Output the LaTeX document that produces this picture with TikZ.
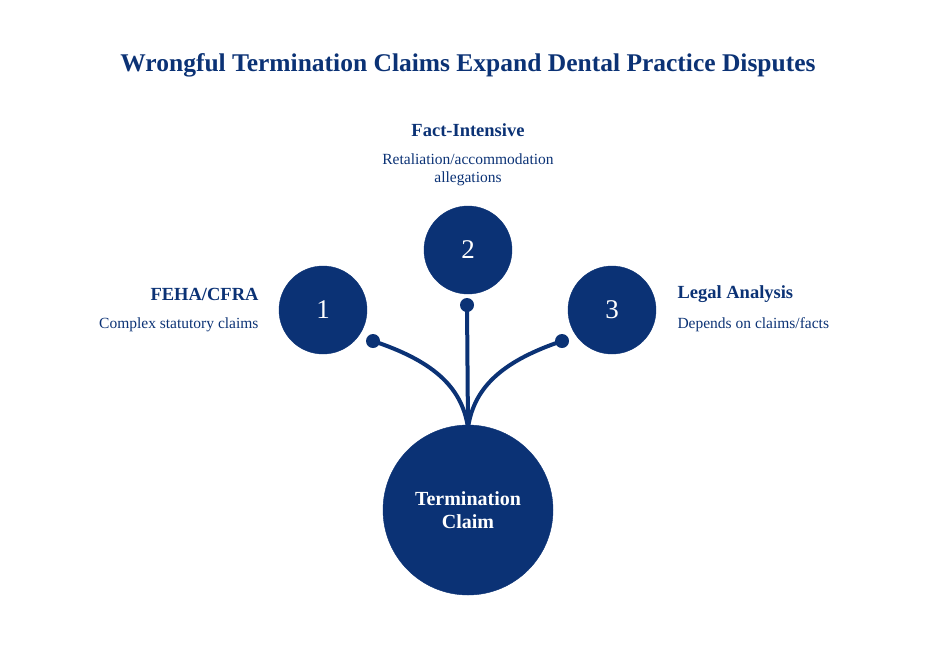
\documentclass[tikz,border=0pt]{standalone}
\usepackage{fontspec}
\setmainfont{Liberation Serif}
\definecolor{navy}{HTML}{0B3275}
\begin{document}
\begin{tikzpicture}[x=1pt,y=-1pt,
  circ/.style={circle,fill=navy,draw=navy,inner sep=0pt},
  num/.style={circ,minimum size=88pt,text=white,font=\fontsize{27}{27}\selectfont},
  dot/.style={circle,fill=navy,inner sep=0pt,minimum size=14pt},
  head/.style={text=navy,font=\bfseries\fontsize{18.5}{21}\selectfont},
  sub/.style={text=navy,font=\fontsize{15.5}{18}\selectfont},
  con/.style={draw=navy,line width=4pt,line cap=round}]
\useasboundingbox (0,0) rectangle (936,665);
\node[text=navy,font=\bfseries\fontsize{25.5}{28}\selectfont] (title) at (468,65) {Wrongful Termination Claims Expand Dental Practice Disputes};
\node[circ,minimum size=170pt,text=white,font=\bfseries\fontsize{20}{23}\selectfont,align=center] (main) at (468,510) {Termination\\Claim};
\node[num] (c1) at (323,310) {1};
\node[num] (c2) at (468,250) {2};
\node[num] (c3) at (612,310) {3};
\node[dot] (d1) at (373,341) {};
\node[dot] (d2) at (467,305) {};
\node[dot] (d3) at (562,341) {};
\coordinate (m) at (468,428);
\draw[con] (m) .. controls (462,385) and (430,360) .. (d1.center);
\draw[con] (m) -- (d2.center);
\draw[con] (m) .. controls (474,385) and (506,360) .. (d3.center);
\node[head,anchor=east] (h1) at (262,294) {FEHA/CFRA};
\node[sub,anchor=east] (s1) at (262,325) {Complex statutory claims};
\node[head] (h2) at (468,130) {Fact-Intensive};
\node[sub,align=center] (s2) at (468,170) {Retaliation/accommodation\\allegations};
\node[head,anchor=west] (h3) at (674,294) {Legal Analysis};
\node[sub,anchor=west] (s3) at (674,325) {Depends on claims/facts};
\end{tikzpicture}
\end{document}
